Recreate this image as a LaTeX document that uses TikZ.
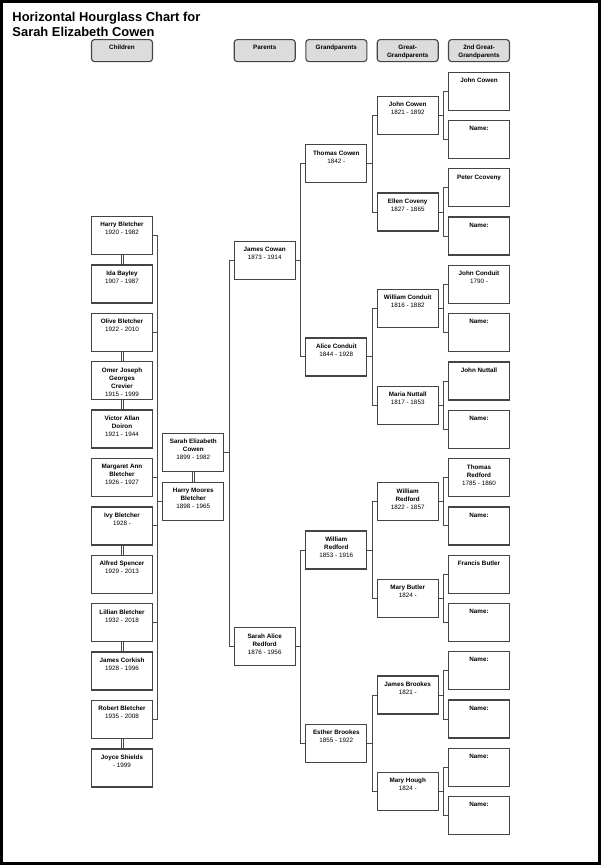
\documentclass[tikz,border=0pt]{standalone}
\usepackage{fontspec}
\setmainfont{Liberation Sans}
\usepackage{tikz}
\definecolor{boxline}{HTML}{444444}
\definecolor{wirec}{HTML}{4A4A4A}
\definecolor{headfill}{HTML}{DCDCDC}
\newcommand\chartfont{\fontsize{6.3}{8}\selectfont}

\begin{document}
\begin{tikzpicture}[x=1pt, y=-1pt,
  personbox/.style={draw=boxline, line width=1.3pt, fill=white, minimum width=61pt, minimum height=38pt, inner sep=0pt},
  headbox/.style={draw=boxline, line width=1.1pt, fill=headfill, rounded corners=3pt, minimum width=61pt, minimum height=22pt, inner sep=0pt},
  who/.style={anchor=north, align=center, inner sep=0pt, yshift=-6.3pt, font=\chartfont, text=black},
  wire/.style={draw=wirec, line width=0.85pt}
]
\useasboundingbox (0,0) rectangle (601,865);
\draw[line width=3pt] (1.5,1.5) rectangle (599.5,863.5);

\node[anchor=north west, inner sep=0pt, align=left, font=\fontsize{12.9}{15}\selectfont\bfseries] (title) at (12.3,11.6)
  {Horizontal Hourglass Chart for\\Sarah Elizabeth Cowen};

% column heads
\foreach \n/\x/\t in {hkids/122/Children, hpar/264.7/Parents, hgp/336.3/Grandparents,
    hggp/407.7/{Great-\\Grandparents}, hgggp/479/{2nd Great-\\Grandparents}}
  \node[headbox, label={[who, yshift=0.8pt, font=\chartfont\bfseries]north:{\t}}] (\n) at (\x,50.6) {};

% children and their spouses
\foreach \k/\t in {0/{\textbf{Harry Bletcher}\\1920 - 1982},
    1/{\textbf{Ida Bayley}\\1907 - 1987},
    2/{\textbf{Olive Bletcher}\\1922 - 2010},
    3/{\textbf{Omer Joseph}\\\textbf{Georges}\\\textbf{Crevier}\\1915 - 1999},
    4/{\textbf{Victor Allan}\\\textbf{Doiron}\\1921 - 1944},
    5/{\textbf{Margaret Ann}\\\textbf{Bletcher}\\1926 - 1927},
    6/{\textbf{Ivy Bletcher}\\1928 -},
    7/{\textbf{Alfred Spencer}\\1929 - 2013},
    8/{\textbf{Lillian Bletcher}\\1932 - 2018},
    9/{\textbf{James Corkish}\\1928 - 1996},
    10/{\textbf{Robert Bletcher}\\1935 - 2008},
    11/{\textbf{Joyce Shields}\\- 1999}}
  \node[personbox, label={[who]north:{\t}}] (kid\k) at (122,{235.5+48.4*\k}) {};

% the person and spouse
\node[personbox, label={[who]north:{\textbf{Sarah Elizabeth}\\\textbf{Cowen}\\1899 - 1982}}] (self) at (193.3,452.5) {};
\node[personbox, label={[who]north:{\textbf{Harry Moores}\\\textbf{Bletcher}\\1898 - 1965}}] (spouse) at (193.3,501.5) {};

% parents
\foreach \k/\t in {0/{\textbf{James Cowan}\\1873 - 1914},
    1/{\textbf{Sarah Alice}\\\textbf{Redford}\\1876 - 1956}}
  \node[personbox, label={[who]north:{\t}}] (par\k) at (264.7,{260.25+386.4*\k}) {};

% grandparents
\foreach \k/\t in {0/{\textbf{Thomas Cowen}\\1842 -},
    1/{\textbf{Alice Conduit}\\1844 - 1928},
    2/{\textbf{William}\\\textbf{Redford}\\1853 - 1916},
    3/{\textbf{Esther Brookes}\\1855 - 1922}}
  \node[personbox, label={[who]north:{\t}}] (gp\k) at (336.3,{163.65+193.2*\k}) {};

% great-grandparents
\foreach \k/\t in {0/{\textbf{John Cowen}\\1821 - 1892},
    1/{\textbf{Ellen Coveny}\\1827 - 1865},
    2/{\textbf{William Conduit}\\1816 - 1882},
    3/{\textbf{Maria Nuttall}\\1817 - 1853},
    4/{\textbf{William}\\\textbf{Redford}\\1822 - 1857},
    5/{\textbf{Mary Butler}\\1824 -},
    6/{\textbf{James Brookes}\\1821 -},
    7/{\textbf{Mary Hough}\\1824 -}}
  \node[personbox, label={[who]north:{\t}}] (ggp\k) at (407.7,{115.35+96.6*\k}) {};

% 2nd great-grandparents
\foreach \k/\t in {0/{\textbf{John Cowen}}, 1/{\textbf{Name:}},
    2/{\textbf{Peter Ccoveny}}, 3/{\textbf{Name:}},
    4/{\textbf{John Conduit}\\1790 -}, 5/{\textbf{Name:}},
    6/{\textbf{John Nuttall}}, 7/{\textbf{Name:}},
    8/{\textbf{Thomas}\\\textbf{Redford}\\1785 - 1860}, 9/{\textbf{Name:}},
    10/{\textbf{Francis Butler}}, 11/{\textbf{Name:}},
    12/{\textbf{Name:}}, 13/{\textbf{Name:}},
    14/{\textbf{Name:}}, 15/{\textbf{Name:}}}
  \node[personbox, label={[who]north:{\t}}] (gggp\k) at (479,{91.2+48.3*\k}) {};

% ancestor brackets
\foreach \j in {0,...,7} {
  \pgfmathtruncatemacro\fa{2*\j}
  \pgfmathtruncatemacro\mo{2*\j+1}
  \draw[wire] (ggp\j.east) -- ++(4.6,0) coordinate (ggpbar\j);
  \draw[wire] (gggp\fa.west) -| (ggpbar\j) |- (gggp\mo.west);
}
\foreach \j in {0,...,3} {
  \pgfmathtruncatemacro\fa{2*\j}
  \pgfmathtruncatemacro\mo{2*\j+1}
  \draw[wire] (gp\j.east) -- ++(4.7,0) coordinate (gpbar\j);
  \draw[wire] (ggp\fa.west) -| (gpbar\j) |- (ggp\mo.west);
}
\foreach \j in {0,1} {
  \pgfmathtruncatemacro\fa{2*\j}
  \pgfmathtruncatemacro\mo{2*\j+1}
  \draw[wire] (par\j.east) -- ++(4.3,0) coordinate (parbar\j);
  \draw[wire] (gp\fa.west) -| (parbar\j) |- (gp\mo.west);
}
\draw[wire] (self.east) -- ++(4.7,0) coordinate (selfbar);
\draw[wire] (par0.west) -| (selfbar) |- (par1.west);

% children bracket
\draw[wire] (spouse.west) -- ++(-4.3,0) coordinate (kidbar);
\draw[wire] (kid0.east) -| (kidbar) |- (kid10.east);
\foreach \k in {2,5,6,8}
  \draw[wire] (kid\k.east) -- (kid\k.east -| kidbar);

% marriages
\foreach \u/\v in {0/1, 2/3, 3/4, 6/7, 8/9, 10/11} {
  \draw[wire, line width=0.7pt] ([xshift=-1.1pt]kid\u.south) -- ([xshift=-1.1pt]kid\v.north);
  \draw[wire, line width=0.7pt] ([xshift=1.1pt]kid\u.south) -- ([xshift=1.1pt]kid\v.north);
}
\draw[wire, line width=0.7pt] ([xshift=-1.1pt]self.south) -- ([xshift=-1.1pt]spouse.north);
\draw[wire, line width=0.7pt] ([xshift=1.1pt]self.south) -- ([xshift=1.1pt]spouse.north);
\end{tikzpicture}
\end{document}
